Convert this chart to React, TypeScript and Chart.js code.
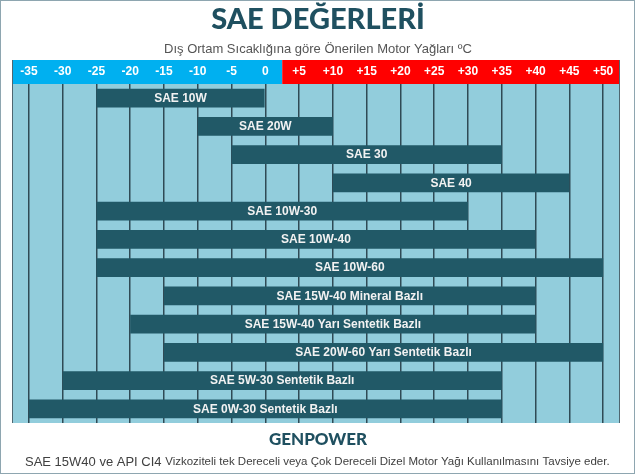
import React, { useEffect, useRef } from "react";
import { Chart, registerables } from "chart.js";

Chart.register(...registerables);

const OIL_GRADES = [
  "SAE 10W",
  "SAE 20W",
  "SAE 30",
  "SAE 40",
  "SAE 10W-30",
  "SAE 10W-40",
  "SAE 10W-60",
  "SAE 15W-40 Mineral Bazlı",
  "SAE 15W-40 Yarı Sentetik Bazlı",
  "SAE 20W-60 Yarı Sentetik Bazlı",
  "SAE 5W-30 Sentetik Bazlı",
  "SAE 0W-30 Sentetik Bazlı",
];
const MIN_TEMPS = [-25, -10, -5, 10, -25, -25, -25, -15, -20, -15, -30, -35];
const MAX_TEMPS = [0, 10, 35, 45, 30, 40, 50, 40, 40, 50, 35, 35];
const TEMP_TICKS = [-35, -30, -25, -20, -15, -10, -5, 0, 5, 10, 15, 20, 25, 30, 35, 40, 45, 50];

const TITLE = "SAE DEĞERLERİ";
const SUBTITLE = "Dış Ortam Sıcaklığına göre Önerilen Motor Yağları ºC";
const BRAND = "GENPOWER";
const NOTE_A = "SAE 15W40 ve API CI4 ";
const NOTE_B = "Vizkoziteli tek Dereceli veya Çok Dereceli Dizel Motor Yağı Kullanılmasını Tavsiye eder.";

const TEAL_DARK = "#1f5060";
const BAR = "#215967";
const PLOT_BG = "#92cddc";

export default function App() {
  const ref = useRef<HTMLCanvasElement | null>(null);

  useEffect(() => {
    document.body.style.margin = "0";
    const canvas = ref.current;
    if (!canvas) return;

    const decor = {
      id: "decor",
      beforeDraw(chart: any) {
        const { ctx, chartArea, scales } = chart;
        const W = chart.width;
        const H = chart.height;
        ctx.save();
        ctx.fillStyle = "#ffffff";
        ctx.fillRect(0, 0, W, H);
        // plot background
        ctx.fillStyle = PLOT_BG;
        ctx.fillRect(chartArea.left, chartArea.top, chartArea.right - chartArea.left, chartArea.bottom - chartArea.top);
        // header band
        const x = scales.x;
        const split = x.getPixelForValue(2.5);
        ctx.fillStyle = "#00b0f0";
        ctx.fillRect(chartArea.left, x.top, split - chartArea.left, x.bottom - x.top);
        ctx.fillStyle = "#ff0000";
        ctx.fillRect(split, x.top, chartArea.right - split, x.bottom - x.top);

        // title
        ctx.fillStyle = TEAL_DARK;
        ctx.textAlign = "center";
        ctx.textBaseline = "middle";
        ctx.font = "900 29px Lato";
        ctx.fillText(TITLE, 318, 20);
        ctx.fillStyle = "#555555";
        ctx.font = "13px 'Liberation Sans', Arial";
        ctx.fillText(SUBTITLE, 318, 49);

        // footer
        ctx.fillStyle = TEAL_DARK;
        ctx.font = "900 17px Lato";
        ctx.fillText(BRAND, 318, 440);
        ctx.textAlign = "left";
        ctx.fillStyle = "#404040";
        ctx.font = "13px 'Liberation Sans', Arial";
        const wa = ctx.measureText(NOTE_A).width;
        const startX = 25;
        ctx.fillText(NOTE_A, startX, 462);
        ctx.font = "11.5px 'Liberation Sans Narrow', 'Liberation Sans', Arial";
        const wb = ctx.measureText(NOTE_B).width;
        const target = 610 - (startX + wa);
        ctx.save();
        ctx.translate(startX + wa, 462);
        ctx.scale(Math.min(1, target / wb), 1);
        ctx.fillText(NOTE_B, 0, 0);
        ctx.restore();
        ctx.restore();
      },
      afterDraw(chart: any) {
        const { ctx, chartArea, scales } = chart;
        ctx.save();
        ctx.strokeStyle = "#4f6670";
        ctx.lineWidth = 1;
        ctx.beginPath();
        ctx.moveTo(chartArea.left + 0.5, scales.x.top);
        ctx.lineTo(chartArea.left + 0.5, chartArea.bottom);
        ctx.moveTo(chartArea.right - 0.5, scales.x.top);
        ctx.lineTo(chartArea.right - 0.5, chartArea.bottom);
        ctx.stroke();
        ctx.strokeStyle = "#8ea6b0";
        ctx.strokeRect(0.5, 0.5, chart.width - 1, chart.height - 1);
        ctx.restore();
      },
    };

    const barLabels = {
      id: "barLabels",
      afterDatasetsDraw(chart: any) {
        const { ctx } = chart;
        const meta = chart.getDatasetMeta(0);
        ctx.save();
        ctx.fillStyle = "#f2f2f2";
        ctx.font = "bold 12px 'Liberation Sans', Arial";
        ctx.textAlign = "center";
        ctx.textBaseline = "middle";
        meta.data.forEach((el: any, i: number) => {
          const cx = (el.x + el.base) / 2;
          ctx.fillText(OIL_GRADES[i], cx, el.y + 0.5);
        });
        ctx.restore();
      },
    };

    const chart = new Chart(canvas, {
      type: "bar",
      data: {
        labels: OIL_GRADES,
        datasets: [
          {
            data: MIN_TEMPS.map((m, i) => [m, MAX_TEMPS[i]]) as any,
            backgroundColor: BAR,
            borderWidth: 0,
            barPercentage: 0.66,
            categoryPercentage: 1,
          },
        ],
      },
      options: {
        indexAxis: "y",
        responsive: false,
        animation: false,
        layout: { padding: { top: 60, left: 12, right: 15, bottom: 51 } },
        plugins: {
          legend: { display: false },
          tooltip: { enabled: false },
          title: { display: false },
        },
        scales: {
          x: {
            type: "linear",
            position: "top",
            min: -37.5,
            max: 52.5,
            afterBuildTicks: (scale: any) => {
              scale.ticks = TEMP_TICKS.map((v) => ({ value: v }));
            },
            ticks: {
              color: "#ffffff",
              font: { family: "'Liberation Sans', Arial", weight: "bold", size: 12, lineHeight: 1.5 },
              padding: 3,
              maxRotation: 0,
              autoSkip: false,
              callback: (v: any) => (Number(v) > 0 ? "+" + v : String(v)),
            },
            grid: { color: "#2f4a55", lineWidth: 1.5, drawTicks: false },
            border: { display: false },
          },
          y: {
            display: false,
            grid: { display: false },
          },
        },
      },
      plugins: [decor, barLabels],
    });
    return () => chart.destroy();
  }, []);

  return (
    <div style={{ width: 635, height: 474 }}>
      <canvas ref={ref} width={635} height={474} style={{ display: "block" }} />
    </div>
  );
}
